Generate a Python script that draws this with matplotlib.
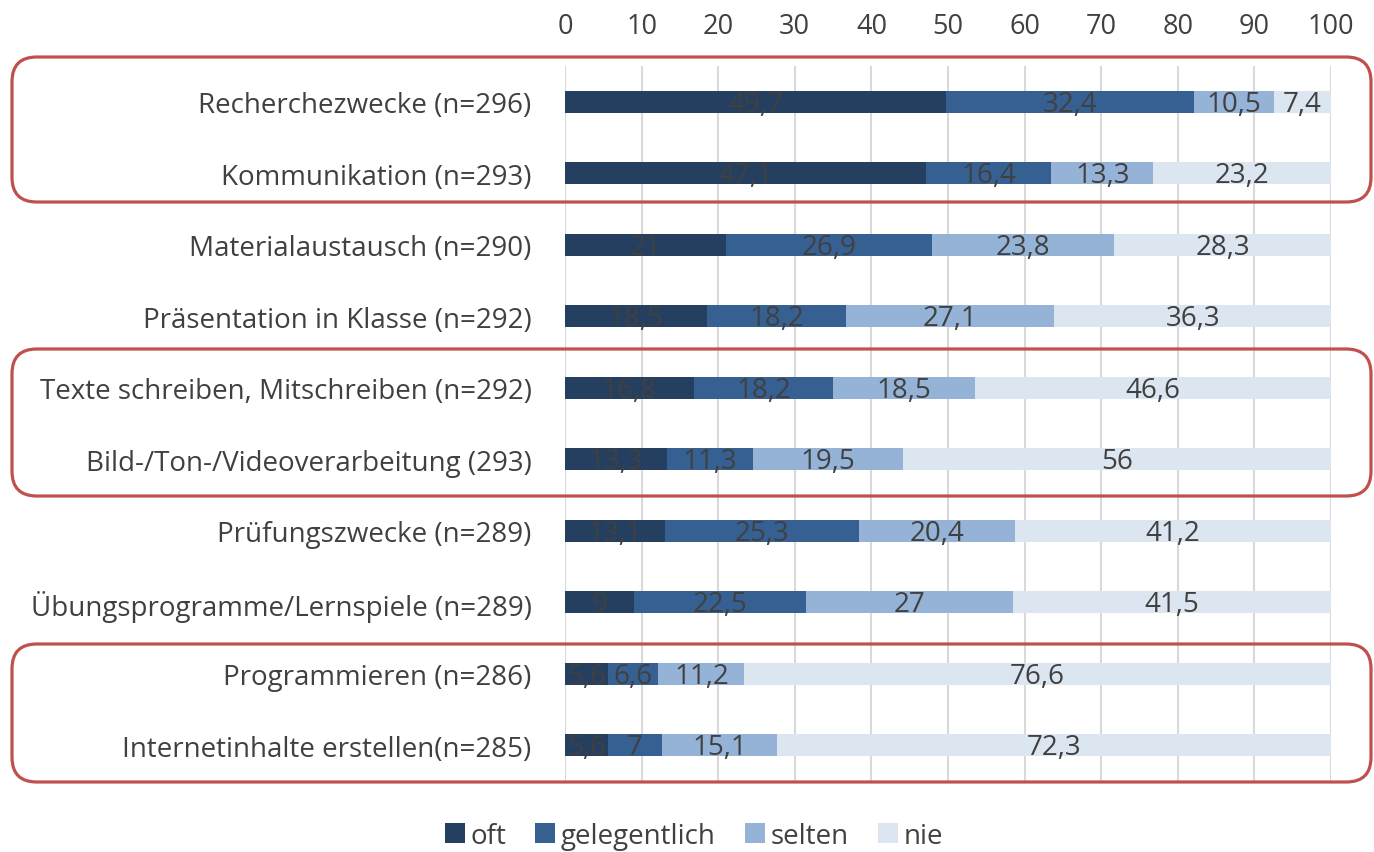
import matplotlib
matplotlib.use("Agg")
import matplotlib.pyplot as plt
from matplotlib.patches import FancyBboxPatch

categories = [
    "Recherchezwecke (n=296)",
    "Kommunikation (n=293)",
    "Materialaustausch (n=290)",
    "Präsentation in Klasse (n=292)",
    "Texte schreiben, Mitschreiben (n=292)",
    "Bild-/Ton-/Videoverarbeitung (293)",
    "Prüfungszwecke (n=289)",
    "Übungsprogramme/Lernspiele (n=289)",
    "Programmieren (n=286)",
    "Internetinhalte erstellen(n=285)",
]
oft = [49.7, 47.1, 21, 18.5, 16.8, 13.3, 13.1, 9, 5.6, 5.6]
gelegentlich = [32.4, 16.4, 26.9, 18.2, 18.2, 11.3, 25.3, 22.5, 6.6, 7]
selten = [10.5, 13.3, 23.8, 27.1, 18.5, 19.5, 20.4, 27, 11.2, 15.1]
nie = [7.4, 23.2, 28.3, 36.3, 46.6, 56, 41.2, 41.5, 76.6, 72.3]
series_names = ["oft", "gelegentlich", "selten", "nie"]
colors = ["#243F60", "#366092", "#95B3D7", "#DCE6F1"]

plt.rcParams['font.family'] = ['Open Sans', 'DejaVu Sans']
txt = "#404040"
fs = 20

fig = plt.figure(figsize=(13.74, 8.53), dpi=100)
ax = fig.add_axes([565/1374, 1-782/853, (1331-565)/1374, (782-67)/853])

n = len(categories)
ypos = list(range(n))
left = [0.0]*n
for name, vals, c in zip(series_names, [oft, gelegentlich, selten, nie], colors):
    ax.barh(ypos, vals, left=left, height=0.31, color=c, label=name, zorder=3)
    for y, l, v in zip(ypos, left, vals):
        s = f"{v:g}".replace(".", ",")
        ax.text(l + v/2, y + 0.03, s, ha="center", va="center", fontsize=fs, color=txt, zorder=4)
    left = [a+b for a, b in zip(left, vals)]

ax.set_ylim(n-0.5, -0.5)
ax.set_xlim(0, 100)
ax.set_xticks(range(0, 101, 10))
ax.xaxis.tick_top()
ax.tick_params(axis="x", length=0, labelsize=19.5, labelcolor=txt, pad=19)
ax.set_yticks(ypos)
ax.set_yticklabels(categories)
ax.tick_params(axis="y", length=0, labelsize=fs, labelcolor=txt, pad=24)
ax.grid(axis="x", color="#D9D9D9", linewidth=1.5, zorder=0)
for sp in ax.spines.values():
    sp.set_visible(False)

leg = fig.legend(loc="center", bbox_to_anchor=(0.505, 1-837/853), ncol=4, frameon=False,
                 fontsize=fs, handlelength=0.72, handleheight=0.72, handletextpad=0.2,
                 columnspacing=1.05)
for t in leg.get_texts():
    t.set_color(txt)

W, H = 1374, 853
for (y0, y1) in [(58, 203), (350, 497), (645, 783)]:
    x0, x1 = 12, 1371
    box = FancyBboxPatch((x0/W, 1-y1/H), (x1-x0)/W, (y1-y0)/H,
                         boxstyle="round,pad=0,rounding_size=0.018",
                         transform=fig.transFigure, fill=False,
                         edgecolor="#C0504D", linewidth=2.3, zorder=10,
                         mutation_aspect=W/H)
    fig.add_artist(box)

fig.savefig("out.png", dpi=100)
